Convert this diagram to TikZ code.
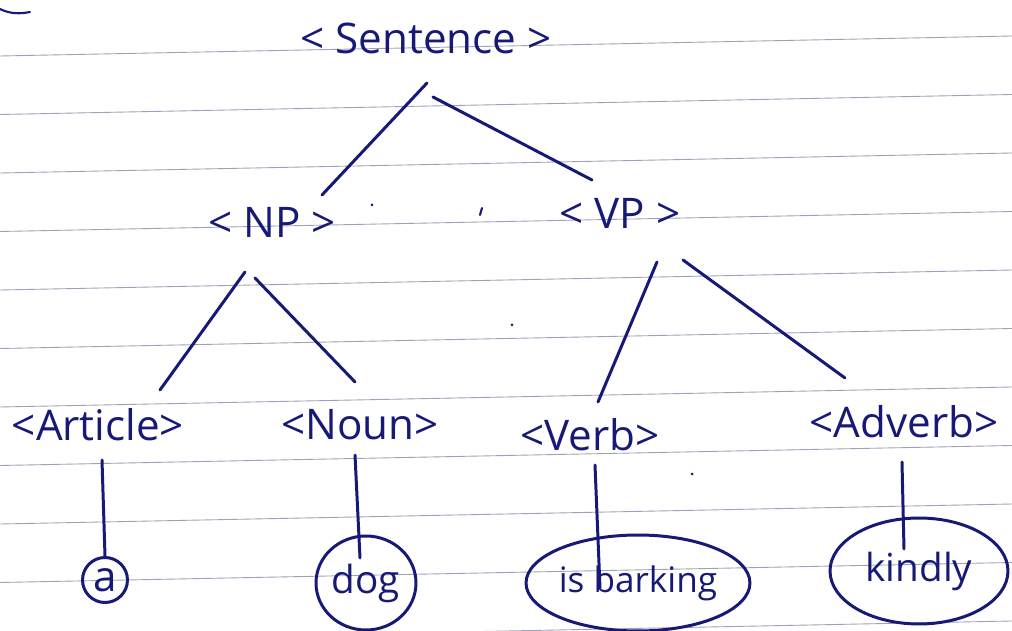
\documentclass[tikz,border=0pt]{standalone}
\usepackage{fontspec}
\setmainfont{Open Sans}
\usetikzlibrary{shapes.geometric}
\definecolor{ink}{RGB}{22,26,118}
\definecolor{ruleline}{RGB}{160,160,185}
\begin{document}
\begin{tikzpicture}[x=0.02cm,y=-0.02cm,
  lab/.style={inner sep=0pt, text=ink, font=\fontsize{24}{26}\selectfont},
  edge/.style={draw=ink, line width=1.7pt, line cap=round},
  leaf/.style={ellipse, draw=ink, line width=1.7pt, text=ink, inner sep=0pt,
               font=\fontsize{22}{24}\selectfont}]
\fill[white] (0,0) rectangle (1012,631);
\useasboundingbox (0,0) rectangle (1012,631);
% ruled paper
\foreach \k in {0,...,10}
  \draw[ruleline, line width=0.5pt] (0,{56+58.5*\k}) -- (1012,{36+58.5*\k});
% stray pen marks
\draw[edge, line width=1.2pt] (0,9) .. controls (10,14) and (20,14) .. (30,12);
\fill[ink] (372,205) circle (1.5);
\draw[edge, line width=1.2pt] (482,208) -- (480,215);
\fill[ink] (512,325) circle (1.5);
\fill[ink] (692,474) circle (1.5);
% labels
\node[lab] (S)   at (426,38)  {\textless{} Sentence \textgreater};
\node[lab] (NP)  at (272,222) {\textless{} NP \textgreater};
\node[lab] (VP)  at (620,213) {\textless{} VP \textgreater};
\node[lab] (Art) at (98,425)  {\textless Article\textgreater};
\node[lab] (N)   at (360,425) {\textless Noun\textgreater};
\node[lab] (V)   at (590,435) {\textless Verb\textgreater};
\node[lab] (Adv) at (904,422) {\textless Adverb\textgreater};
% leaves
\node[leaf, circle, minimum size=0.9cm, font=\fontsize{24}{26}\selectfont] (a) at (105,580) {a};
\node[leaf, minimum width=2cm, minimum height=1.88cm] (dog) at (366,583) {dog};
\node[leaf, minimum width=4.4cm, minimum height=1.92cm, font=\fontsize{20}{22}\selectfont] (bk) at (638,583) {is barking};
\node[leaf, minimum width=3.56cm, minimum height=2.12cm] (kl) at (919,571) {kindly};
% connectors
\draw[edge] ([shift={(1,45)}]S.center)  -- ([shift={(50,-27)}]NP.center);
\draw[edge] ([shift={(7,59)}]S.center)  -- ([shift={(-28,-33)}]VP.center);
\draw[edge] ([shift={(-27,50)}]NP.center) -- ([shift={(62,-35)}]Art.center);
\draw[edge] ([shift={(-17,56)}]NP.center) -- ([shift={(-5,-43)}]N.center);
\draw[edge] ([shift={(37,49)}]VP.center) -- ([shift={(8,-33)}]V.center);
\draw[edge] ([shift={(63,47)}]VP.center) -- ([shift={(-59,-44)}]Adv.center);
\draw[edge] ([shift={(4,35)}]Art.center) -- (a.north);
\draw[edge] ([shift={(-5,30)}]N.center) -- ([shift={(-6,-25)}]dog.center);
\draw[edge] ([shift={(5,30)}]V.center) -- ([shift={(-38,5)}]bk.center);
\draw[edge] ([shift={(-2,40)}]Adv.center) -- ([shift={(-15,-22)}]kl.center);
\end{tikzpicture}
\end{document}
